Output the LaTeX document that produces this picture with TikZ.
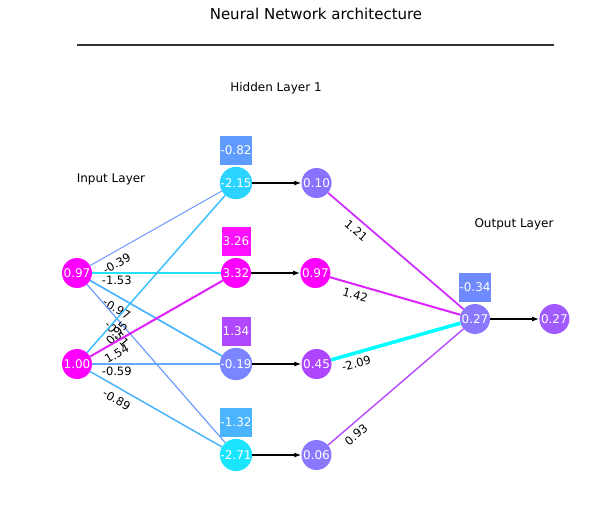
\documentclass[tikz,border=0pt]{standalone}
\usepackage{fontspec}
\setmainfont{DejaVu Sans}
\usetikzlibrary{positioning,arrows.meta}
\definecolor{cMag}{HTML}{FF00FF}
\definecolor{cH1}{HTML}{2AD4FF}
\definecolor{cH3}{HTML}{7A85FF}
\definecolor{cH4}{HTML}{1AE5FF}
\definecolor{cB1}{HTML}{609CFF}
\definecolor{cB2}{HTML}{FF10FF}
\definecolor{cB3}{HTML}{B048FF}
\definecolor{cB4}{HTML}{4AB4FF}
\definecolor{cBo}{HTML}{6F8AFF}
\definecolor{cA1}{HTML}{8A72FF}
\definecolor{cA3}{HTML}{B045FF}
\definecolor{cA4}{HTML}{8A78FF}
\definecolor{cOut}{HTML}{A05AFF}
% weight colours
\definecolor{wA}{HTML}{6E96FF}
\definecolor{wB}{HTML}{22E0FF}
\definecolor{wC}{HTML}{48B4FF}
\definecolor{wD}{HTML}{6A9CFF}
\definecolor{wE}{HTML}{3CC0FF}
\definecolor{wF}{HTML}{E020FF}
\definecolor{wG}{HTML}{64A8FF}
\definecolor{wH}{HTML}{4AB4FF}
\definecolor{wI}{HTML}{D030FF}
\definecolor{wJ}{HTML}{DD22FF}
\definecolor{wK}{HTML}{00FFFF}
\definecolor{wL}{HTML}{B848FF}

\begin{document}
\begin{tikzpicture}[x=1pt,y=-1pt,
neuron/.style={circle,minimum size=30pt,inner sep=0pt,text=white,font=\fontsize{12}{14}\selectfont},
biasbox/.style={minimum width=29pt,minimum height=29pt,inner sep=0pt,text=white,font=\fontsize{12}{14}\selectfont},
wlabel/.style={sloped,pos=0.25,inner sep=0pt,text=black,font=\fontsize{11.5}{13}\selectfont},
layername/.style={font=\fontsize{12}{14}\selectfont},
pass/.style={-{Latex[length=7pt,width=5pt]},line width=1.3pt},
]
\useasboundingbox (0,0) rectangle (605,516);

\node[font=\fontsize{15}{18}\selectfont] (title) at (316,14) {Neural Network architecture};
\coordinate (ruleL) at (77,45);
\coordinate (ruleR) at (554,45);
\draw[line width=1.4pt,black!80] (ruleL) -- (ruleR);

\node[layername] (inname) at (111,179) {Input Layer};
\node[layername] (hidname) at (276,88) {Hidden Layer 1};
\node[layername] (outname) at (514,224) {Output Layer};

% input layer
\node[neuron,fill=cMag] (i1) at (77,273) {0.97};
\node[neuron,fill=cMag] (i2) at (77,364) {1.00};

% hidden layer
\foreach \i/\y/\v/\c/\bv/\bc/\av/\ac in {
1/183/-2.15/cH1/-0.82/cB1/0.10/cA1,
2/273/3.32/cMag/3.26/cB2/0.97/cMag,
3/364/-0.19/cH3/1.34/cB3/0.45/cA3,
4/455/-2.71/cH4/-1.32/cB4/0.06/cA4}{
\node[neuron,fill=\c] (h\i) at (236,\y) {\v};
\node[biasbox,fill=\bc,above=1.5pt of h\i] (b\i) {\bv};
\node[neuron,fill=\ac,right=49pt of h\i] (a\i) {\av};
\draw[pass] (h\i) -- (a\i);
}

% output layer
\node[neuron,fill=cA4] (o) at (475,319) {0.27};
\node[biasbox,fill=cBo,above=1.5pt of o] (bo) {-0.34};
\node[neuron,fill=cOut,right=49pt of o] (y) {0.27};
\draw[pass] (o) -- (y);

% weights, label dropped by \d below the line
\foreach \s/\t/\w/\c/\lw/\d in {
i1/h1/-0.39/wA/1/13, i1/h2/-1.53/wB/2.5/7, i1/h3/-0.97/wC/1.7/13, i1/h4/-0.51/wD/1.2/15.5,
i2/h1/0.95/wE/1.5/14, i2/h2/1.54/wF/2/12.5, i2/h3/-0.59/wG/1.7/7, i2/h4/-0.89/wH/1.5/13,
a1/o/1.21/wI/1.8/13.5, a2/o/1.42/wJ/2/10.5, a3/o/-2.09/wK/3.5/11, a4/o/0.93/wL/1.4/13.5}{
\draw[color=\c,line width=\lw pt] (\s) -- (\t);
\path ([yshift=-\d pt]\s.center) -- ([yshift=-\d pt]\t.center) node[wlabel] {\w};
}
\end{tikzpicture}
\end{document}
